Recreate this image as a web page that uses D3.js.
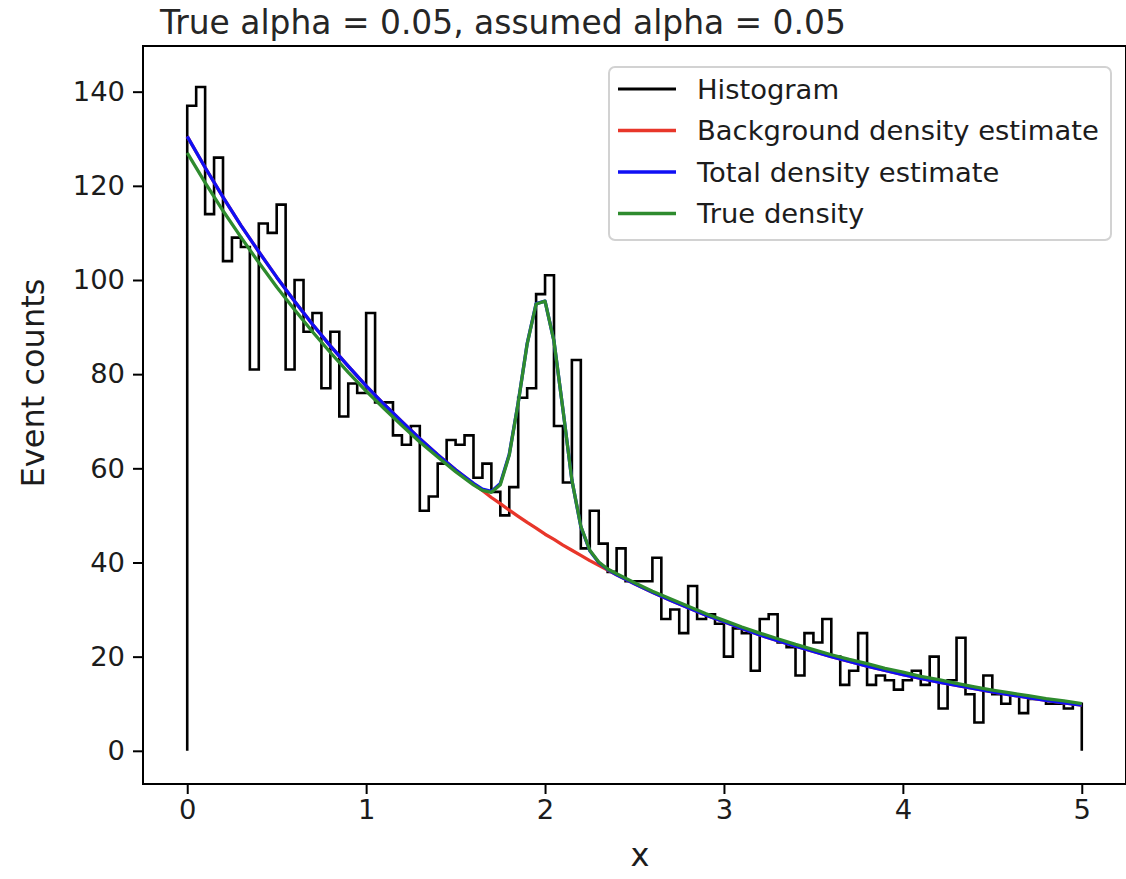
<!DOCTYPE html>
<html>
<head>
<meta charset="utf-8">
<script src="https://cdn.jsdelivr.net/npm/d3@7"></script>
<style>
  html, body { margin: 0; padding: 0; background: #fff; }
  svg { display: block; font-family: "DejaVu Sans", sans-serif; }
</style>
</head>
<body>
<div id="chart"></div>
<script>
// Histogram: 100 equal bins over [0, 5]
const histRange = [0, 5];
const histCounts = [
  137, 141, 114, 126, 104, 109, 107, 81, 112, 110,
  116, 81, 100, 89, 93, 77, 89, 71, 78, 76,
  93, 74, 74, 67, 65, 69, 51, 54, 61, 66,
  65, 67, 58, 61, 55, 50, 56, 75, 77, 97,
  101, 69, 57, 83, 43, 51, 44, 38, 43, 36,
  36, 36, 41, 28, 30, 25, 35, 28, 29, 27,
  20, 26, 25, 17, 28, 29, 23, 22, 16, 25,
  23, 28, 20, 14, 17, 25, 14, 16, 15, 13,
  15, 17, 14, 20, 9, 15, 24, 12, 6, 16,
  12, 10, 12, 8, 11, 11, 10, 10, 9, 10
];

// Density curves, in event counts per bin
const curveX = [
  0, 0.1, 0.2, 0.3, 0.4, 0.5, 0.6, 0.7, 0.8, 0.9, 1.0, 1.1, 1.2, 1.3, 1.4, 1.5, 1.6,
  1.65, 1.7, 1.75, 1.8, 1.85, 1.9, 1.95, 2.0, 2.05, 2.1, 2.15, 2.2, 2.25, 2.3, 2.35,
  2.4, 2.5, 2.6, 2.7, 2.8, 2.9, 3.0, 3.1, 3.2, 3.3, 3.4, 3.5, 3.6, 3.7, 3.8, 3.9,
  4.0, 4.1, 4.2, 4.3, 4.4, 4.5, 4.6, 4.7, 4.8, 4.9, 5.0
];
const backgroundEstimate = [
  130.5, 123.9, 117.6, 111.6, 106.0, 100.6, 95.5, 90.6, 86.0, 81.7, 77.5, 73.6, 69.9, 66.3, 62.9, 59.7, 56.7,
  55.3, 53.8, 52.5, 51.1, 49.8, 48.5, 47.3, 46.0, 44.9, 43.7, 42.6, 41.5, 40.4, 39.4, 38.4,
  37.4, 35.5, 33.7, 32.0, 30.4, 28.8, 27.4, 26.0, 24.6, 23.4, 22.2, 21.1, 20.0, 19.0, 18.0, 17.1,
  16.2, 15.4, 14.6, 13.9, 13.2, 12.5, 11.9, 11.3, 10.7, 10.2, 9.7
];
const totalEstimate = [
  130.5, 123.9, 117.6, 111.6, 106.0, 100.6, 95.5, 90.6, 86.0, 81.7, 77.5, 73.6, 69.9, 66.3, 62.9, 59.7, 56.8,
  55.6, 55.1, 56.8, 63.0, 74.0, 86.5, 95.0, 95.5, 87.0, 72.5, 57.5, 47.6, 42.5, 40.0, 38.5,
  37.4, 35.5, 33.7, 32.0, 30.4, 28.8, 27.4, 26.0, 24.6, 23.4, 22.2, 21.1, 20.0, 19.0, 18.0, 17.1,
  16.2, 15.4, 14.6, 13.9, 13.2, 12.5, 11.9, 11.3, 10.7, 10.2, 9.7
];
const trueDensity = [
  127.0, 120.7, 114.7, 109.1, 103.7, 98.5, 93.7, 89.0, 84.6, 80.4, 76.4, 72.7, 69.1, 65.6, 62.4, 59.3, 56.5,
  55.3, 54.9, 56.5, 62.8, 73.9, 86.4, 94.9, 95.5, 87.0, 72.5, 57.5, 47.7, 42.6, 40.1, 38.6,
  37.6, 35.7, 33.9, 32.3, 30.7, 29.1, 27.7, 26.3, 25.0, 23.8, 22.6, 21.5, 20.4, 19.4, 18.5, 17.5,
  16.7, 15.8, 15.1, 14.3, 13.6, 12.9, 12.3, 11.7, 11.1, 10.6, 10.0
];

const xTicks = [0, 1, 2, 3, 4, 5];
const yTicks = [0, 20, 40, 60, 80, 100, 120, 140];
const legendLabels = ["Histogram", "Background density estimate", "Total density estimate", "True density"];
const titleText = "True alpha = 0.05, assumed alpha = 0.05";

// ---- drawing ----
const W = 1126, H = 879;
const plot = { left: 143, right: 1126, top: 46, bottom: 784 };
const colors = { hist: "#000000", bg: "#e8362a", total: "#0f0ff5", truth: "#2e8b2e" };
const textColor = "#1c1c1c";

const svg = d3.select("#chart").append("svg").attr("width", W).attr("height", H);

const x = d3.scaleLinear().domain([-0.25, 5.25]).range([142.5, 1126.5]);
const y = d3.scaleLinear().domain([-7.05, 149.7]).range([plot.bottom, plot.top]);

svg.append("defs").append("clipPath").attr("id", "clip")
  .append("rect").attr("x", plot.left).attr("y", plot.top)
  .attr("width", plot.right - plot.left).attr("height", plot.bottom - plot.top);

const g = svg.append("g").attr("clip-path", "url(#clip)");

// step outline of the histogram
const nBins = histCounts.length;
const binW = (histRange[1] - histRange[0]) / nBins;
const stepPts = [[histRange[0], 0]];
histCounts.forEach((c, i) => {
  const x0 = histRange[0] + i * binW;
  stepPts.push([x0, c], [x0 + binW, c]);
});
stepPts.push([histRange[1], 0]);

const line = d3.line().x(d => x(d[0])).y(d => y(d[1]));
g.append("path").attr("d", line(stepPts))
  .attr("fill", "none").attr("stroke", colors.hist).attr("stroke-width", 2.6)
  .attr("stroke-linejoin", "miter");

function drawCurve(vals, color) {
  g.append("path").attr("d", line(curveX.map((v, i) => [v, vals[i]])))
    .attr("fill", "none").attr("stroke", color).attr("stroke-width", 3.3)
    .attr("stroke-linejoin", "round").attr("stroke-linecap", "butt");
}
drawCurve(backgroundEstimate, colors.bg);
drawCurve(totalEstimate, colors.total);
drawCurve(trueDensity, colors.truth);

// axes
const fontSize = 27.4;
const xAxis = svg.append("g").attr("transform", `translate(0,${plot.bottom})`)
  .call(d3.axisBottom(x).tickValues(xTicks).tickFormat(d3.format("d")).tickSize(10).tickPadding(6));
const yAxis = svg.append("g").attr("transform", `translate(${plot.left},0)`)
  .call(d3.axisLeft(y).tickValues(yTicks).tickFormat(d3.format("d")).tickSize(10).tickPadding(8));
[xAxis, yAxis].forEach(a => {
  a.select(".domain").remove();
  a.selectAll(".tick line").attr("stroke", "#000").attr("stroke-width", 2);
  a.selectAll(".tick text").attr("fill", textColor).style("font-size", fontSize + "px")
    .style("font-family", '"DejaVu Sans", sans-serif');
});

// frame
svg.append("rect").attr("x", plot.left).attr("y", plot.top)
  .attr("width", plot.right - plot.left).attr("height", plot.bottom - plot.top)
  .attr("fill", "none").attr("stroke", "#000").attr("stroke-width", 2);

// labels
svg.append("text").attr("x", 640).attr("y", 866)
  .attr("text-anchor", "middle").style("font-size", "32px").attr("fill", textColor).text("x");
svg.append("text").attr("transform", "translate(44,383) rotate(-90)")
  .attr("text-anchor", "middle").style("font-size", "32px").attr("fill", textColor).text("Event counts");
svg.append("text").attr("x", 160).attr("y", 34)
  .style("font-size", "32.9px").attr("fill", "#262626").text(titleText);

// legend
const leg = svg.append("g");
leg.append("rect").attr("x", 609).attr("y", 67).attr("width", 502).attr("height", 173)
  .attr("rx", 6).attr("fill", "#fff").attr("fill-opacity", 0.8)
  .attr("stroke", "#d2d2d2").attr("stroke-width", 2);
const legColors = [colors.hist, colors.bg, colors.total, colors.truth];
legendLabels.forEach((lab, i) => {
  const cy = 89 + i * 41.5;
  leg.append("line").attr("x1", 618).attr("x2", 676).attr("y1", cy).attr("y2", cy)
    .attr("stroke", legColors[i]).attr("stroke-width", i === 0 ? 2.8 : 3.3);
  leg.append("text").attr("x", 697).attr("y", cy).attr("dy", "0.35em")
    .style("font-size", fontSize + "px").attr("fill", textColor).text(lab);
});
</script>
</body>
</html>
